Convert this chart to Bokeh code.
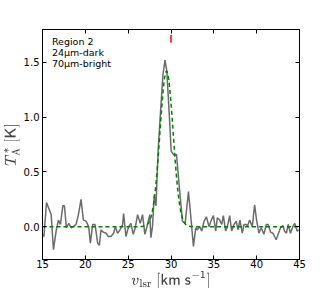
import numpy as np
from bokeh.plotting import figure
from bokeh.models import (LinearAxis, FixedTicker, PrintfTickFormatter, Range1d,
                          ColumnDataSource, CustomLabelingPolicy)
from bokeh.core.properties import value
from bokeh.embed import file_html
from bokeh.resources import INLINE

# ---- data ----
velocity = [15.00, 15.16, 15.47, 16.01, 16.28, 16.59, 16.86, 17.10, 17.37, 17.56,
            17.79, 18.07, 18.34, 18.61, 18.92, 19.19, 19.50, 19.77, 20.08, 20.39,
            20.59, 20.86, 21.13, 21.44, 21.64, 21.83, 22.10, 22.41, 22.68, 22.99,
            23.30, 23.50, 23.77, 24.04, 24.35, 24.47, 24.74, 25.05, 25.32, 25.59,
            25.83, 26.10, 26.41, 26.68, 26.95, 27.26, 27.53, 27.65, 27.84, 28.04,
            28.25, 28.50, 28.78, 29.05, 29.30, 29.51, 29.78, 30.02, 30.36, 30.64,
            30.95, 31.34, 31.65, 32.04, 32.30, 32.62, 32.89, 33.08, 33.35, 33.59,
            33.86, 34.13, 34.44, 34.71, 34.95, 35.22, 35.41, 35.68, 35.92, 36.11,
            36.38, 36.58, 36.85, 37.08, 37.35, 37.62, 37.82, 38.05, 38.32, 38.52,
            38.79, 38.90, 39.18, 39.49, 39.76, 39.99, 40.26, 40.53, 40.84, 41.12,
            41.35, 41.62, 41.89, 42.09, 42.28, 42.51, 42.78, 43.06, 43.25, 43.48,
            43.68, 43.95, 44.22, 44.45, 44.72, 44.92]
t_antenna = [-0.07, -0.09, 0.22, 0.11, -0.21, -0.04, 0.06, 0.02, 0.19, 0.19,
             -0.01, 0.03, -0.01, 0.00, 0.02, 0.11, 0.25, 0.06, 0.05, 0.00,
             -0.15, 0.02, 0.02, -0.15, -0.17, -0.03, -0.05, -0.06, -0.09, -0.09,
             -0.06, 0.00, -0.06, -0.03, 0.02, 0.12, -0.09, 0.00, 0.03, -0.07,
             -0.01, 0.11, 0.03, 0.11, -0.07, 0.02, 0.11, -0.10, 0.00, 0.29,
             0.19, 0.70, 1.05, 1.38, 1.52, 1.42, 1.05, 0.69, 0.65, 0.66,
             0.38, 0.05, 0.03, 0.32, 0.10, -0.18, -0.01, -0.03, 0.00, -0.04,
             0.05, 0.09, 0.00, 0.06, 0.10, -0.04, 0.08, 0.06, 0.02, 0.10,
             -0.04, 0.00, 0.10, -0.04, 0.02, 0.05, -0.03, 0.06, -0.06, 0.02,
             0.02, 0.00, 0.06, 0.00, 0.20, 0.06, -0.06, -0.01, -0.07, 0.02,
             0.02, -0.05, -0.06, -0.09, -0.12, -0.07, -0.01, 0.01, -0.04, -0.06,
             0.02, -0.06, 0.00, 0.03, -0.04, -0.03]

# Gaussian fit parameters
fit_amp = 1.42
fit_center = 29.48
fit_sigma = 0.77

v_mark = 30.0
mark_range = [1.68, 1.75]

annotation = ["Region 2", "24μm-dark", "70μm-bright"]
annot_y = [1.691, 1.594, 1.494]
annot_x = 16.1

x_ticks = [15, 20, 25, 30, 35, 40, 45]
y_ticks = [0.0, 0.5, 1.0, 1.5]

v_fit = np.linspace(15, 45, 601)
t_fit = fit_amp * np.exp(-0.5 * ((v_fit - fit_center) / fit_sigma) ** 2)

p = figure(frame_width=257, frame_height=230, output_backend="svg", toolbar_location=None,
           x_range=Range1d(15, 45), y_range=Range1d(-0.3, 1.8),
           min_border_left=0, min_border_right=25, min_border_top=29, min_border_bottom=0)
p.background_fill_color = "white"
p.border_fill_color = "white"
p.outline_line_color = "black"
p.xgrid.visible = False
p.ygrid.visible = False

p.line(velocity, t_antenna, line_color="#6b6b6b", line_width=1.5)
p.line(v_fit, t_fit, line_color="#008000", line_width=1.5, line_dash="4 3")
p.segment(x0=[v_mark], y0=[mark_range[0]], x1=[v_mark], y1=[mark_range[1]],
          line_color="red", line_width=1.5)

src = ColumnDataSource(dict(x=[annot_x] * len(annotation), y=annot_y, t=annotation))
p.text(x="x", y="y", text="t", source=src, text_font=value("DejaVu Sans"),
       text_font_size="9.5px", text_color="black", text_baseline="alphabetic")

font = "DejaVu Sans"
for ax in [p.xaxis[0], p.yaxis[0]]:
    ax.major_tick_in = 4
    ax.major_tick_out = 0
    ax.minor_tick_in = 0
    ax.minor_tick_out = 0
    ax.axis_line_color = "black"
    ax.major_tick_line_color = "black"
    ax.major_label_text_font = font
    ax.major_label_text_font_size = "10px"
    ax.major_label_text_color = "black"
    ax.axis_label_text_font = font
    ax.axis_label_text_font_size = "13px"
    ax.axis_label_text_font_style = "normal"

p.xaxis.ticker = FixedTicker(ticks=x_ticks)
p.yaxis.ticker = FixedTicker(ticks=y_ticks)
p.xaxis.formatter = PrintfTickFormatter(format="%d")
p.yaxis.formatter = PrintfTickFormatter(format="%.1f")
p.xaxis.major_label_standoff = 0
p.yaxis.major_label_standoff = 3
p.xaxis.axis_label_standoff = 0
p.yaxis.axis_label_standoff = 1
p.xaxis.axis_label = r"$$v_{\rm lsr}\ [\mathsf{km\ s^{-1}}]$$"
p.yaxis.axis_label = r"$$T_{\rm A}^{*}\ [\mathsf{K}]$$"

hide_all = CustomLabelingPolicy(code="""
for (let i = 0; i < indices.size; i++) { indices.unset(i) }
return indices
""")

for loc, ticks in [("right", y_ticks), ("above", x_ticks)]:
    ax = LinearAxis(ticker=FixedTicker(ticks=ticks))
    ax.major_tick_in = 4
    ax.major_tick_out = 0
    ax.minor_tick_in = 0
    ax.minor_tick_out = 0
    ax.major_label_policy = hide_all
    ax.major_label_standoff = 0
    ax.axis_line_color = "black"
    p.add_layout(ax, loc)

open("out.html", "w").write(file_html(p, INLINE))
